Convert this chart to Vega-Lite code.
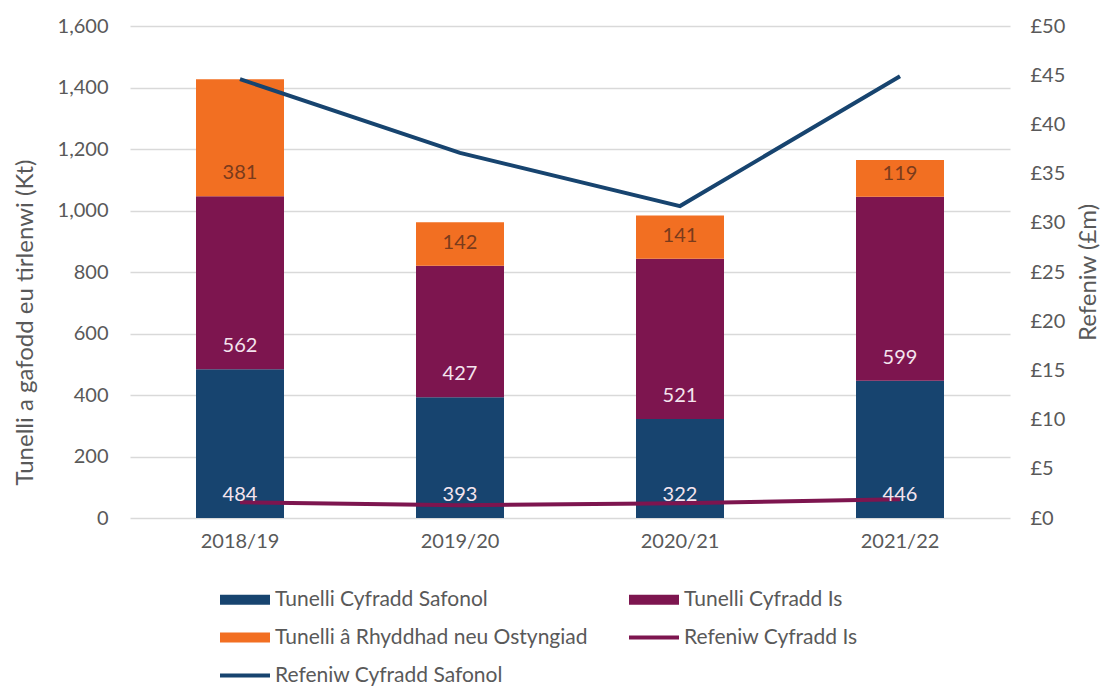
{
  "$schema": "https://vega.github.io/schema/vega-lite/v6.json",
  "autosize": "none",
  "width": 880,
  "height": 492,
  "padding": {"left": 130, "top": 26, "right": 93, "bottom": 173},
  "background": "white",
  "config": {
    "font": "Lato",
    "view": {"stroke": null},
    "axis": {"labelColor": "#595959", "titleColor": "#595959", "labelFont": "Lato", "titleFont": "Lato", "titleFontWeight": "normal"}
  },
  "datasets": {
    "tonnes": [
      {"year": "2018/19", "series": "Tunelli Cyfradd Safonol", "k": 1, "value": 484},
      {"year": "2018/19", "series": "Tunelli Cyfradd Is", "k": 2, "value": 562},
      {"year": "2018/19", "series": "Tunelli â Rhyddhad neu Ostyngiad", "k": 3, "value": 381},
      {"year": "2019/20", "series": "Tunelli Cyfradd Safonol", "k": 1, "value": 393},
      {"year": "2019/20", "series": "Tunelli Cyfradd Is", "k": 2, "value": 427},
      {"year": "2019/20", "series": "Tunelli â Rhyddhad neu Ostyngiad", "k": 3, "value": 142},
      {"year": "2020/21", "series": "Tunelli Cyfradd Safonol", "k": 1, "value": 322},
      {"year": "2020/21", "series": "Tunelli Cyfradd Is", "k": 2, "value": 521},
      {"year": "2020/21", "series": "Tunelli â Rhyddhad neu Ostyngiad", "k": 3, "value": 141},
      {"year": "2021/22", "series": "Tunelli Cyfradd Safonol", "k": 1, "value": 446},
      {"year": "2021/22", "series": "Tunelli Cyfradd Is", "k": 2, "value": 599},
      {"year": "2021/22", "series": "Tunelli â Rhyddhad neu Ostyngiad", "k": 3, "value": 119}
    ],
    "revenue": [
      {"year": "2018/19", "series": "Refeniw Cyfradd Safonol", "rev": 44.6},
      {"year": "2019/20", "series": "Refeniw Cyfradd Safonol", "rev": 37.1},
      {"year": "2020/21", "series": "Refeniw Cyfradd Safonol", "rev": 31.7},
      {"year": "2021/22", "series": "Refeniw Cyfradd Safonol", "rev": 44.9},
      {"year": "2018/19", "series": "Refeniw Cyfradd Is", "rev": 1.6},
      {"year": "2019/20", "series": "Refeniw Cyfradd Is", "rev": 1.3},
      {"year": "2020/21", "series": "Refeniw Cyfradd Is", "rev": 1.5},
      {"year": "2021/22", "series": "Refeniw Cyfradd Is", "rev": 1.9}
    ]
  },
  "encoding": {
    "x": {
      "field": "year", "type": "nominal", "sort": null,
      "scale": {"paddingInner": 0.6, "paddingOuter": 0.3},
      "axis": {"title": null, "labelAngle": 0, "labelFontSize": 20, "labelPadding": 13, "ticks": false, "domain": false}
    }
  },
  "layer": [
    {
      "data": {"name": "tonnes"},
      "transform": [
        {"stack": "value", "groupby": ["year"], "sort": [{"field": "k", "order": "ascending"}], "as": ["v0", "v1"]}
      ],
      "layer": [
        {
          "mark": {"type": "bar"},
          "encoding": {
            "y": {
              "field": "v0", "type": "quantitative",
              "scale": {"domain": [0, 1600]},
              "axis": {
                "title": "Tunelli a gafodd eu tirlenwi (Kt)", "titleFontSize": 24, "titlePadding": 20, "titleY": 296,
                "values": [0, 200, 400, 600, 800, 1000, 1200, 1400, 1600], "format": ",.0f",
                "labelFontSize": 20, "labelPadding": 22, "ticks": false, "domain": false,
                "gridColor": "#d9d9d9", "gridWidth": 1.5
              }
            },
            "y2": {"field": "v1"},
            "color": {
              "field": "series", "type": "nominal",
              "scale": {
                "domain": ["Tunelli Cyfradd Safonol", "Tunelli Cyfradd Is", "Tunelli â Rhyddhad neu Ostyngiad", "Refeniw Cyfradd Is", "Refeniw Cyfradd Safonol"],
                "range": ["#17446f", "#7d154f", "#f26f22", "#7d154f", "#17446f"]
              },
              "legend": {
                "title": null, "orient": "none", "legendX": 102.5, "legendY": 561,
                "direction": "horizontal", "columns": 2, "columnPadding": 40, "rowPadding": 15,
                "labelFontSize": 21, "labelColor": "#595959", "labelFont": "Lato", "labelLimit": 400,
                "symbolSize": 625, "labelOffset": 17.5,
                "symbolType": "M-2,-0.4H2V0.4H-2Z",
                "encode": {
                  "symbols": {
                    "update": {
                      "shape": {"signal": "(datum.value == 'Refeniw Cyfradd Is' || datum.value == 'Refeniw Cyfradd Safonol') ? 'M-2,-0.16H2V0.16H-2Z' : 'M-2,-0.4H2V0.4H-2Z'"},
                      "fill": {"scale": "color", "field": "value"},
                      "strokeWidth": {"value": 0},
                      "opacity": {"value": 1}
                    }
                  }
                }
              }
            }
          }
        }
      ]
    },
    {
      "data": {"name": "revenue"},
      "mark": {"type": "line", "strokeWidth": 4},
      "encoding": {
        "y": {
          "field": "rev", "type": "quantitative",
          "scale": {"domain": [0, 50]},
          "axis": {
            "orient": "right", "title": "Refeniw (£m)", "titleFontSize": 24, "titlePadding": 12, "titleAngle": 270, "titleBaseline": "top",
            "values": [0, 5, 10, 15, 20, 25, 30, 35, 40, 45, 50], "labelExpr": "'£' + datum.value",
            "labelFontSize": 20, "labelPadding": 20, "ticks": false, "domain": false, "grid": false
          }
        },
        "color": {"field": "series", "type": "nominal"}
      }
    },
    {
      "data": {"name": "tonnes"},
      "transform": [
        {"stack": "value", "groupby": ["year"], "sort": [{"field": "k", "order": "ascending"}], "as": ["v0", "v1"]}
      ],
      "mark": {"type": "text", "fontSize": 20, "font": "Lato", "dy": -23, "baseline": "middle"},
      "encoding": {
        "y": {"field": "v0", "type": "quantitative", "scale": {"domain": [0, 1600]}, "axis": null},
        "text": {"field": "value", "type": "quantitative"},
        "color": {
          "condition": {"test": "datum.k == 3", "value": "#7a3b1c"},
          "value": "#f4e4ee"
        }
      }
    }
  ],
  "resolve": {"scale": {"y": "independent"}}
}
